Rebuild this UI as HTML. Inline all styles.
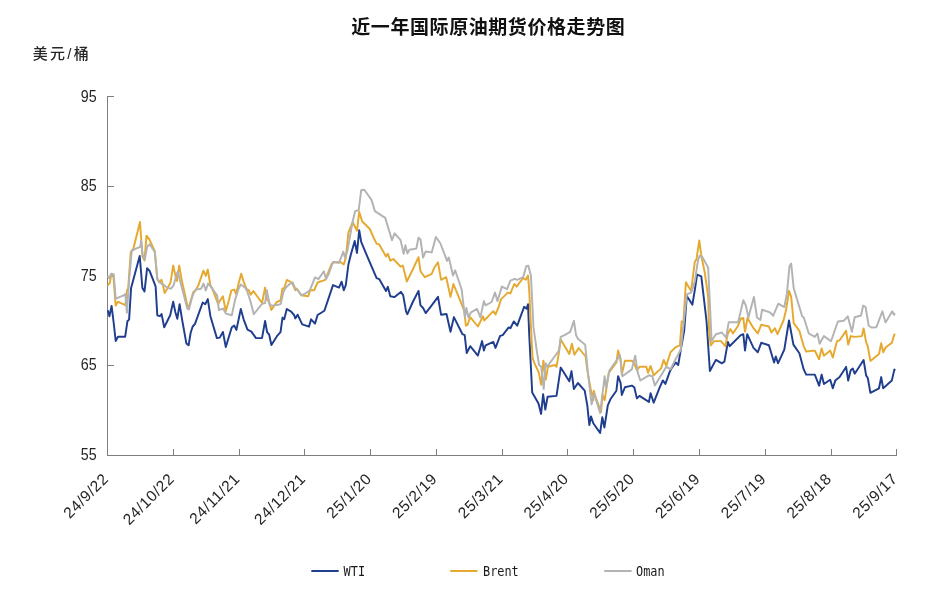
<!DOCTYPE html>
<html lang="zh"><head><meta charset="utf-8"><title>近一年国际原油期货价格走势图</title>
<style>
html,body{margin:0;padding:0;background:#fff;}
body{width:938px;height:602px;overflow:hidden;font-family:"Liberation Sans","Noto Sans CJK SC",sans-serif;}
svg{display:block}
.ax{stroke:#7f7f7f;stroke-width:1;fill:none;shape-rendering:crispEdges}
.num{font-family:"Liberation Sans","Noto Sans CJK SC",sans-serif;font-size:15.7px;fill:#262626}
.xl{font-family:"Liberation Sans","Noto Sans CJK SC",sans-serif;font-size:15.5px;letter-spacing:.6px;fill:#262626}
.lg{font-family:"DejaVu Sans Mono","Liberation Mono",monospace;font-size:14.4px;fill:#1a1a1a}
.ln{fill:none;stroke-width:1.95;stroke-linejoin:round;stroke-linecap:butt}
</style></head><body>
<svg width="938" height="602" viewBox="0 0 938 602">
<rect width="938" height="602" fill="#fff"/>
<text x="488" y="34.3" text-anchor="middle" textLength="273.5" lengthAdjust="spacing" style="font-family:'Liberation Sans','Noto Sans CJK SC',sans-serif;font-weight:bold;font-size:19px;fill:#111">近一年国际原油期货价格走势图</text>
<text x="32.8" y="58.6" textLength="56" lengthAdjust="spacing" style="font-family:'Liberation Sans','Noto Sans CJK SC',sans-serif;font-weight:500;font-size:15px;fill:#262626">美元/桶</text>

<path class="ax" d="M107.5 96.0V455.5H896.5"/>
<path class="ax" d="M107.5 96.5h6.5"/>
<text class="num" x="96.6" y="101.6" text-anchor="end" textLength="15.9" lengthAdjust="spacingAndGlyphs">95</text>
<path class="ax" d="M107.5 186.5h6.5"/>
<text class="num" x="96.6" y="190.9" text-anchor="end" textLength="15.9" lengthAdjust="spacingAndGlyphs">85</text>
<path class="ax" d="M107.5 276.5h6.5"/>
<text class="num" x="96.6" y="280.9" text-anchor="end" textLength="15.9" lengthAdjust="spacingAndGlyphs">75</text>
<path class="ax" d="M107.5 365.5h6.5"/>
<text class="num" x="96.6" y="369.9" text-anchor="end" textLength="15.9" lengthAdjust="spacingAndGlyphs">65</text>
<text class="num" x="96.6" y="459.8" text-anchor="end" textLength="15.9" lengthAdjust="spacingAndGlyphs">55</text>
<text class="xl" text-anchor="end" transform="translate(109.4 479.8) rotate(-45)">24/9/22</text>
<path class="ax" d="M173.5 455.5v-6.5"/>
<text class="xl" text-anchor="end" transform="translate(175.2 479.8) rotate(-45)">24/10/22</text>
<path class="ax" d="M239.5 455.5v-6.5"/>
<text class="xl" text-anchor="end" transform="translate(240.9 479.8) rotate(-45)">24/11/21</text>
<path class="ax" d="M304.5 455.5v-6.5"/>
<text class="xl" text-anchor="end" transform="translate(306.6 479.8) rotate(-45)">24/12/21</text>
<path class="ax" d="M370.5 455.5v-6.5"/>
<text class="xl" text-anchor="end" transform="translate(372.4 479.8) rotate(-45)">25/1/20</text>
<path class="ax" d="M436.5 455.5v-6.5"/>
<text class="xl" text-anchor="end" transform="translate(438.1 479.8) rotate(-45)">25/2/19</text>
<path class="ax" d="M502.5 455.5v-6.5"/>
<text class="xl" text-anchor="end" transform="translate(503.9 479.8) rotate(-45)">25/3/21</text>
<path class="ax" d="M567.5 455.5v-6.5"/>
<text class="xl" text-anchor="end" transform="translate(569.6 479.8) rotate(-45)">25/4/20</text>
<path class="ax" d="M633.5 455.5v-6.5"/>
<text class="xl" text-anchor="end" transform="translate(635.4 479.8) rotate(-45)">25/5/20</text>
<path class="ax" d="M699.5 455.5v-6.5"/>
<text class="xl" text-anchor="end" transform="translate(701.1 479.8) rotate(-45)">25/6/19</text>
<path class="ax" d="M765.5 455.5v-6.5"/>
<text class="xl" text-anchor="end" transform="translate(766.9 479.8) rotate(-45)">25/7/19</text>
<path class="ax" d="M831.5 455.5v-6.5"/>
<text class="xl" text-anchor="end" transform="translate(832.6 479.8) rotate(-45)">25/8/18</text>
<path class="ax" d="M896.5 455.5v-6.5"/>
<text class="xl" text-anchor="end" transform="translate(898.4 479.8) rotate(-45)">25/9/17</text>
<polyline class="ln" stroke="#1f3e8e" points="107.7,310.2 109.4,316.2 111.6,305.9 113.7,323 115.7,341 118,336.7 125.2,336.7 127.4,321.3 129.1,319.6 131.1,288 139.7,255.9 142.4,288 144.5,291.4 147.1,268.3 149.6,270.9 155.6,286.3 157.3,315.3 159.9,316.2 161.6,314.1 164.2,327.3 170.2,315.3 173.2,301.7 175.3,311.9 177.3,318.8 179.6,304.2 182.1,319.6 186.4,343.6 188.6,345.3 190.7,332.5 192.7,326.5 195,323.9 202.7,302.5 205.2,304.2 207.8,299.1 210.4,316.2 216.9,338.1 219.8,337.6 222.9,331.9 225.8,347 231.8,327.3 234.3,325.6 236.4,329.9 240.8,309 243.7,319.6 247.5,329.6 251.4,331.6 256,338.1 262,338.1 265.1,321 267.1,332.1 269.2,334.7 271.4,345 277.4,335.6 280.5,332.1 282.5,317.6 284.2,319.3 286.8,309 291.1,311.6 294.1,315 295.3,318.4 297.6,314.7 302.2,324.4 309,326.7 311.1,319.3 315,323.6 317.6,315 324.4,310.7 333,285.1 339,287.6 341.6,281.7 343.8,290.2 345.8,285.1 348.4,264.5 351,253.9 354.7,241 357,253 359.2,230.2 361.2,241.9 364.7,250.4 376.6,278.2 379.2,279.1 386,291.1 387.8,286.8 390.3,296.2 394.6,297.1 400.9,291.9 403.2,295.3 406.1,311.6 407.4,314.2 412.8,302 418.5,290.9 420.5,305.4 423.1,308 425.7,313.1 431.7,305.4 438,296.9 441.1,314.8 446.5,314 450.5,331.7 453.9,317.1 462.5,334.2 464.7,335.1 466.7,353 470.2,346.2 477.9,355.6 482.1,341.1 483.9,350.5 485.6,345.3 493.3,341.9 495.5,347.9 500.1,335.9 502.7,335.1 508.7,327.4 510.4,328.2 513.8,321.4 517.2,325.7 524.1,306.8 526.6,308.6 528,304.3 529.2,334.2 532.2,392.5 538.5,403.6 541.1,413.9 543.1,394.2 545.3,409.6 547.6,396.7 556.5,395.9 560.7,367.6 569.3,381.3 571.5,371.1 573.9,389 577.9,383 584.7,390.7 587.3,405.3 589.3,425 591,416.4 593.3,423.3 600.1,433 602.3,417.3 604.4,427.5 607.8,405.3 610.4,399.3 616.4,390.7 618.1,376.2 620.6,383 621.8,395 624.9,387.3 631.8,385.6 634.3,387.3 636.9,398.4 639.5,395.9 648.9,401.9 650.6,393.3 653.7,402.7 659.4,388.1 662.8,380.4 665.4,383.9 669.7,371.9 671.4,368.4 675.7,362.5 678.2,365 680.8,349.6 684.2,330.8 686.8,296 692.4,304.6 694.8,290 697.1,274.6 701.3,276.3 706.5,320.8 709.9,371 715.9,359.9 721.9,363.3 724.4,361.6 727.9,341.9 729.6,346.2 740.7,335.1 743.3,334.2 745,350.5 747.2,334.2 753.5,347.9 757.8,352.2 761.2,342.8 768.9,345.3 774.1,362.5 775.8,356.5 778,363.3 784.3,349.6 789,320.5 793.4,344.6 799.4,353.2 803.7,369.4 806.2,374.6 814.8,374.6 819.1,385.7 821.6,374.6 823.9,384 830.2,379.7 832.8,388.3 835.3,380.6 839.6,377.1 846.1,366.9 848.2,380.6 850.7,370.3 852.8,368.6 854.7,373.7 863.6,360 866.1,375.4 867.8,378 870.4,392.9 879,388.3 881.2,377.1 883.2,388.3 891.8,380.6 894.4,369.4 895,370.6"/>
<polyline class="ln" stroke="#e5a92f" points="107.7,285.4 109.8,282.8 111.3,274.8 113.3,275.5 115.7,305.6 118,301.7 121.4,303.4 125.3,305.1 127,290.5 128.2,288 130.8,251.9 133.4,248.5 140,222 142.4,256.2 144.5,260.5 146.5,235.7 149.6,239.9 154.8,251.1 157.3,279.3 159,281.9 161.6,279.8 164.7,293 167.6,287.9 170.5,282.7 173.2,265.6 175.3,275 177,281 179.2,265.6 182.1,281.9 185.2,295.6 188.1,309.3 190.7,300.7 193.3,292.1 195.5,290.4 198.4,285.3 201,277.6 203.5,270.7 205.8,275.9 207.8,269.6 210.4,285.3 212.9,290.4 218.1,303.8 220.6,299.8 222.9,296.4 225.8,311 228.3,302.4 231.4,290.4 234.3,289.6 236,293.9 238.6,283.6 241.2,273.7 243.7,281.9 246.3,288.7 248.9,290.4 250.6,294.7 253.4,291.1 262,303 265.1,287.6 266.8,299.6 268.8,301.3 271.4,309.9 276.5,302.2 280.5,300.5 282.5,288.5 284.2,288.5 286.8,279.9 291.9,282.5 295.3,290.2 296.5,288.5 301.3,295.3 308.2,296.2 310.2,290.2 314.2,290.2 317.6,282.5 325.3,279.9 331.3,264.5 333.9,262 340.7,262.3 343.8,264.5 345.8,257.7 348.4,232.5 352.7,222.2 357,230.7 359.2,211.9 362.1,221.3 369.8,229 373.2,236.7 376.6,243.6 379.2,244.4 386,256.4 387.8,253.9 390.3,260.7 393.4,259 400.6,266.7 402.8,265.5 406.8,281.5 412.8,269.5 418.5,257.2 420.5,271.2 424.8,277.2 431.7,273.8 434.2,267.8 438,262.3 441.1,279.8 446.2,277.2 450.5,296.9 453.4,284 457.3,293.4 464.2,310.6 465.9,325.7 467.6,324.8 470.2,317.1 477.9,326.5 483,316.3 484.2,320.5 493.3,311.1 495.5,314.5 498.4,307.7 501,299.4 507.8,292.6 510.4,293.4 514.3,284 516.7,286.6 519.8,282.3 523.2,278 525.8,279.8 528,275.5 529.2,290 530.9,325.7 532.6,358.2 535.2,365 538.6,371.9 541.2,384.7 543.4,360.7 545.8,379.6 548,366.7 554.9,365 556.5,366.8 559,352.2 560.7,339.4 569.3,354 571.9,343.7 574.4,354.8 578.7,348 585.6,356.5 587.3,370.2 590.7,389 593.3,400.2 593.8,390.7 595.8,397.6 601,412.1 602.7,395 604.7,400.2 608.7,372.8 616.4,362.5 618.1,350.5 620.6,359.1 621.8,374.5 624.9,360.8 631.8,360.8 634.3,363.4 636.9,370.2 639.5,366.8 646.3,366.8 648,372.8 650.6,365.9 653.7,375.3 661.1,368.4 663.7,359.9 666.3,365.9 670.5,352.2 675.7,347.1 679.9,345.3 681.7,321.4 683.4,322.2 685.9,282.3 691.1,290.9 694.8,261.8 696.5,259.2 699.3,240.4 701.3,255.8 704.8,272.9 708.2,296.9 709,329.1 710.7,345.3 714.2,341.1 721,341.1 725.3,346.2 727.9,333.4 730.4,329.1 733,333.4 738.1,325.7 740.7,318.8 743.3,318 745,331.7 747.5,318 753.5,328.2 757.8,333.4 761.2,324.8 768.9,326.5 771.5,332.5 774.9,328.2 777.5,334.2 783.5,320.5 786,310.3 789,290.9 791.2,296.9 793.7,323.1 799.4,330.9 803.7,346.3 806.2,351.5 814.8,350.6 819.1,359.2 821.6,348.4 823.9,355.7 830.2,350.6 832.8,357.5 837,341.2 839.6,340.3 846.1,330.9 848.2,344.6 850.7,336.1 854.7,336.9 861.9,336.1 863.6,328.4 866.1,342.1 867.8,346.3 870.4,360.9 879,354 881.2,343.3 883.2,352.3 885.8,347.2 891.8,342.9 894.4,334.4 895,335.2"/>
<polyline class="ln" stroke="#b3b3b3" points="107.7,275.9 109.4,278.4 111.1,273.7 113.7,274.2 115.7,298.7 118.8,297.4 123.1,295.7 125.3,294 126.9,312.8 129.1,280.3 131.7,251.1 134.2,249.4 140.2,246.8 141.1,240.8 142.8,255.3 144.8,259.6 147.1,246.8 149.6,244.2 154.8,251.9 157.3,278.4 159.9,282.7 164.2,285.3 167.6,287.9 171,288.7 173.6,285.3 177,273.3 177.9,271.6 180.4,281.9 183.9,295.6 187.3,308.4 189,309.3 191.6,299 193.3,293.9 195.8,289.6 201,288.7 203.5,283.6 205.8,290.4 208.1,283.6 211.2,287 214.7,292.1 217.2,295.6 218.9,310.2 223.2,308.5 225.8,313.6 231.8,315.3 235.2,299.4 238.6,288.8 240.8,284.5 245.5,288 247.5,292.2 250.6,301.7 253.8,314.2 262,303.9 265.1,303 266.8,290.2 269.7,304.8 272.2,305.6 278.2,304.8 280.8,303.9 283.4,291.9 285.9,287.6 289.4,284.2 292.8,282.5 295.3,288.5 297.9,290.2 301.3,295.3 306.5,292.8 309.9,290.2 315,277.4 318.4,279.1 323.9,271.4 326.1,279.1 328.7,274 333,262 339,262.8 343.3,251.7 345,257.7 347.5,250.4 352.7,221.3 355.2,211.1 358.7,210.2 361.2,190.2 364.3,189.7 371.5,199.9 374.9,211.1 385.2,217.9 392,240.2 394.6,233.3 400.6,240.2 403.7,253.9 405.4,245.3 407.4,253.5 409.4,249.8 416.3,248.6 418.5,237.8 420.5,239.5 423.1,257.5 425.7,251.5 431.7,252.4 435.9,237 440.2,243 447.1,260.9 448.8,257.5 453,275.5 455.1,270.3 461.6,289.2 465,317.4 466.4,308 468.4,317.4 471,312.3 477,308.9 480.4,317.4 483.9,301.1 485.6,305.4 491.6,302 495,292.6 497.5,301.1 501.8,286.6 507,289.2 510.4,280.6 514.7,278.9 517.2,279.8 523.2,277.2 526.3,266.1 528.3,265.7 530.9,275.5 533.5,327.4 536.9,351.3 539,365 541.2,366.7 543.7,389 545.5,363.3 547.2,366.7 547.1,366.8 559,350.5 560.7,336.8 565,334.8 570.2,331.9 573.9,320.8 576.1,335.3 577.9,338.8 585.2,344.8 588.1,374.5 591.6,404.4 594.1,393.3 600.1,413 604.7,376.2 606.1,388.2 609.5,370.2 618.1,358.2 619.8,354.8 622.4,376.2 631.8,369.4 635.2,355.7 637.8,372.8 640.3,380.5 648.9,375.3 652.3,376.2 654.9,385.6 666.3,366.7 670.5,369.3 675.7,359 680.8,349.6 683.4,325.7 686.8,294.3 691.1,292.6 694.8,281.5 697.9,260.9 699.6,255.8 702.2,256.7 708.2,267.8 710.2,310.6 711.6,341.1 715.9,334.2 721.9,332.5 726.1,337.6 728.7,322.2 738.1,322.2 743.3,300.3 745.8,305.4 748.4,317.4 753.9,296.9 757,317.4 760.4,320 762.1,309.7 769.8,312.3 773.2,315.7 778.3,303.7 784.3,307.1 786.9,293.4 789.5,266.1 791.2,263.5 793.7,288.3 802.3,316.6 803.7,317.2 808.8,333.5 814.8,336.9 817.4,333.5 819.6,343.8 823.9,336.1 831,341.2 837.9,321.5 843.9,320.7 847.8,316.4 851.9,331.8 854.7,317.2 861,315.5 863.2,305.6 865.6,307 868.7,325.8 871.3,327.5 876.4,327.2 882.4,311.3 885.5,322.4 892.3,311.3 894,314.7 895,313.2"/>
<path class="ln" stroke="#1f3e8e" stroke-width="2.1" d="M311.3 571H338.7"/>
<text class="lg" transform="translate(343.6 575.7) scale(.826 1)">WTI</text>
<path class="ln" stroke="#e5a92f" stroke-width="2.1" d="M450.3 571H477.5"/>
<text class="lg" transform="translate(483 575.7) scale(.826 1)">Brent</text>
<path class="ln" stroke="#b3b3b3" stroke-width="2.1" d="M604.2 571H631.6"/>
<text class="lg" transform="translate(636.0 575.7) scale(.826 1)">Oman</text>
</svg></body></html>
